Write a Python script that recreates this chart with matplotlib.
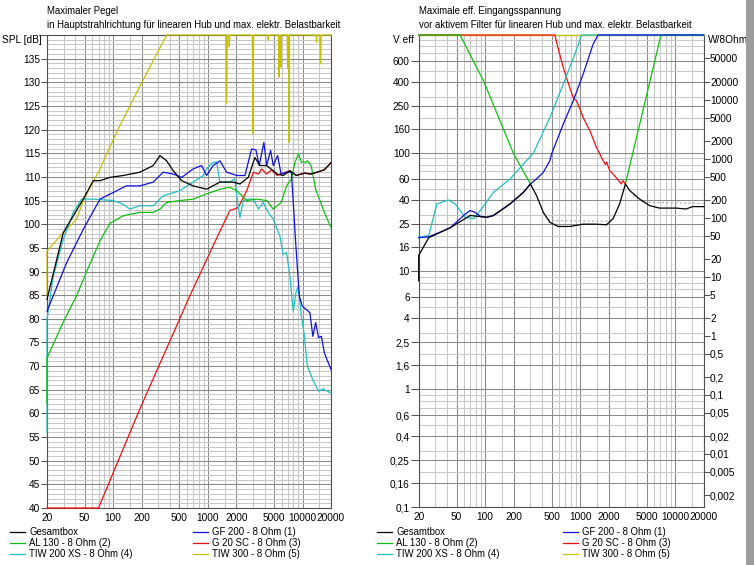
import numpy as np
import matplotlib
matplotlib.use("Agg")
import matplotlib.pyplot as plt
from matplotlib.ticker import FixedLocator, FuncFormatter, NullFormatter
from matplotlib.patches import Rectangle

plt.rcParams['font.family'] = ['Liberation Sans', 'DejaVu Sans']

W, H = 754, 565
nan = np.nan

names = ["Gesamtbox", "GF 200 - 8 Ohm (1)", "AL 130 - 8 Ohm (2)",
         "G 20 SC - 8 Ohm (3)", "TIW 200 XS - 8 Ohm (4)", "TIW 300 - 8 Ohm (5)"]
colors = ["#000000", "#1010e0", "#10c010", "#f01010", "#20c0c0", "#c8c000"]

x_major = [20, 50, 100, 200, 500, 1000, 2000, 5000, 10000, 20000]
x_minor = [30, 40, 60, 70, 80, 90, 150, 300, 400, 600, 700, 800, 900, 1500,
           3000, 4000, 6000, 7000, 8000, 9000, 15000]

### left: Maximaler Pegel, SPL in dB

box_f = [20, 29.7, 48.3, 61.6, 72.6, 92.5, 128, 192, 265, 312, 367, 431, 529, 701,
         970, 1342, 1855, 2183, 2675, 3144, 3548, 4178, 4910, 5400, 6255, 7364, 8600,
         10500, 12300, 14780, 17000, 20000]
box_spl = [84.1, 98.2, 105.3, 109.2, 109.2, 109.9, 110.3, 111.0, 112.4, 114.5, 113.4,
           111.3, 109.2, 108.1, 107.4, 108.9, 108.9, 108.5, 109.9, 114.1, 112.4, 112.4,
           111.3, 110.6, 110.3, 111.3, 110.3, 110.8, 110.6, 111.1, 111.5, 113.0]

gf200_f = [20, 32.3, 48.3, 72.6, 100, 137, 192, 265, 338, 431, 529, 701, 859, 970,
           1140, 1342, 1578, 2013, 2466, 2899, 3221, 3490, 3909, 4178, 4604, 4910,
           5457, 5940, 6792, 7640, 8515, 9262, 9930, 11970, 12860, 13780, 14780,
           15850, 17000, 20000]
gf200_spl = [81.6, 91.9, 98.9, 105.3, 106.7, 108.1, 108.1, 108.9, 111.0, 110.6, 109.9,
             111.7, 112.4, 110.3, 112.4, 113.4, 111.0, 110.3, 110.3, 115.9, 115.7, 112.4,
             117.3, 112.4, 115.6, 112.4, 114.5, 110.6, 111.0, 111.0, 95.4, 84.8, 82.7,
             81.3, 76.3, 79.2, 76.0, 76.3, 72.8, 69.3]

al130_f = [20, 20, 29.7, 41.3, 52.5, 72.6, 92.5, 128, 192, 265, 312, 367, 508, 701,
           970, 1342, 1710, 2013, 2580, 3280, 4178, 4910, 5940, 6792, 7640, 8330, 9080,
           9720, 10880, 11230, 12340, 13780, 15300, 17000, 20000]
al130_spl = [62, 71.7, 79.3, 85.0, 90.0, 96.5, 100.2, 101.8, 102.5, 102.5, 103.2,
             104.6, 105.0, 105.3, 106.4, 107.4, 107.8, 107.1, 105.0, 105.3, 105.0, 103.2,
             104.6, 108.1, 109.6, 113.1, 114.9, 113.1, 113.1, 113.4, 112.4, 107.4, 105.0,
             102.5, 99.3]

g20_f = [20, 70, 76, 192, 621, 1052, 1342, 1710, 2090, 2580, 3030, 3425, 3700, 4178,
         4700, 5400, 6255, 7364, 8600, 10500, 12300, 14780, 17000, 20000]
g20_spl = [40, 40, 41.7, 61.0, 84.1, 94.0, 98.5, 102.9, 103.5, 107.1, 111.0, 110.6,
           111.7, 110.6, 111.5, 110.3, 110.8, 111.3, 110.3, 110.8, 110.6, 111.1, 111.5, 113.0]

tiw200_f = [20, 20, 23.3, 29.7, 37.9, 46.3, 61.6, 100, 128, 150, 192, 265, 338, 508,
            701, 895, 970, 1140, 1239, 1342, 1710, 1930, 2040, 2183, 2370, 2675, 3030,
            3425, 3840, 4340, 4910, 5770, 6255, 6792, 7364, 7980, 8515, 8990, 9720,
            10490, 11230, 12860, 14780, 16460, 20000]
tiw200_spl = [56, 79.9, 89.0, 96.8, 102.5, 105.3, 105.3, 105.0, 104.2, 103.2, 103.9,
              103.9, 106.0, 107.1, 108.9, 110.3, 111.7, 113.1, 113.1, 108.9, 108.9, 109.6,
              105.3, 101.4, 105.0, 105.3, 105.3, 103.2, 104.6, 102.5, 101.1, 97.5, 93.6,
              94.0, 89.0, 81.6, 85.5, 86.9, 80.6, 76.3, 70.0, 67.1, 64.7, 65.2, 64.3]

tiw300_f = [20, 20, 29.7, 41.3, 48.3, 72.6, 113.5, 192, 367,
            1555, 1581, 1605, 1660, 1683, 1705,
            2950, 2994, 3040, 4290, 4345, 4400,
            5570, 5636, 5700, 5840, 5905, 5970,
            6900, 6966, 7030, 7160, 7230, 7300,
            13900, 14090, 14280, 15300, 15520, 15740, 20000]
tiw300_spl = [85, 94.3, 98.2, 101.1, 105.0, 111.7, 120.2, 129.2, 140,
              140, 125.5, 140, 140, 137.5, 140,
              140, 119.1, 140, 140, 138.9, 140,
              140, 131.1, 140, 140, 133.2, 140,
              140, 133.0, 140, 140, 117.3, 140,
              140, 138.5, 140, 140, 133.9, 140, 140]

### right: max. Eingangsspannung, V eff

box_v_f = [20, 20, 25.5, 42.9, 69.6, 104, 122.5, 183, 253, 300, 348, 410, 481, 587,
           778, 1077, 1486, 1893, 2223, 2606, 3000, 3320, 4230, 5383, 6855, 10260,
           13060, 15240, 20000]
box_v = [8.3, 13.6, 19.2, 23.3, 29.6, 28.6, 29.6, 37.1, 46.5, 54.8, 43.6, 31.5, 25.9,
         23.9, 23.9, 25.0, 25.0, 24.7, 27.8, 37.1, 54.8, 48.3, 40.8, 35.9, 34.2, 34.2,
         33.6, 35.2, 35.2]

gf200_v_f = [20, 25.5, 42.9, 62, 69.6, 78, 90, 104, 122.5, 183, 253, 300, 348, 410,
             481, 501, 665, 846, 1077, 1371, 1545, 20000]
gf200_v = [19.2, 19.5, 23.3, 30.5, 32.6, 31.5, 29.0, 28.6, 29.6, 37.1, 46.5, 54.8,
           60.4, 68.7, 86.3, 98.3, 176, 277, 466, 836, 1000, 1000]

al130_v_f = [20, 54.6, 96.2, 200, 300, nan, 3000, 7100, 20000]
al130_v = [1000, 1000, 409, 98.3, 54.8, nan, 54.8, 1000, 1000]

g20_v_f = [20, 542, 580, 665, 760, 846, 880, 917, 1000, 1077, 1265, 1486, 1746, 1850,
           1900, 2051, 2400, 2716, 2830, 3000]
g20_v = [1000, 1000, 800, 530, 380, 296, 285, 277, 235, 200, 155, 112, 86.3, 80,
         84, 71, 62, 54.8, 58.4, 54.8]

tiw200_v_f = [20, 25.5, 31.1, 41.3, 48.4, 61.7, 75.9, 88.7, 122.5, 183, 322, 481, 665,
              880, 1035, 20000]
tiw200_v = [19.4, 20.0, 37.1, 40.1, 37.1, 28.6, 27.8, 32.6, 46.5, 60.4, 100, 200, 384,
            688, 1000, 1000]

tiw300_v_f = [20, 20000]
tiw300_v = [1000, 1000]

limit_f = [400, 481, 2050, 2200, nan, 3600, 4600, 20000]
limit_v = [31.5, 26.8, 26.5, 28.6, nan, 44.0, 38.3, 37.5]

v_ticks = [0.1, 0.16, 0.25, 0.4, 0.6, 1, 1.6, 2.5, 4, 6, 10, 16, 25, 40, 60, 100,
           160, 250, 400, 600]
v_minor = [m * 10.0 ** k for k in range(-1, 3) for m in (2, 3, 5, 7, 8, 9)]
w_ticks = [0.002, 0.005, 0.01, 0.02, 0.05, 0.1, 0.2, 0.5, 1, 2, 5, 10, 20, 50, 100,
           200, 500, 1000, 2000, 5000, 10000, 20000, 50000]

FS = 7.3      # tick labels
FS_T = 6.9    # titles / legend

GRID_MAJ = "#8a8a8a"
GRID_MIN = "#c8c8c8"


def de(v, pos=None):
    return ("%g" % v).replace(".", ",")


def box(x0, y0, x1, y1):
    return [x0 / W, 1 - y1 / H, (x1 - x0) / W, (y1 - y0) / H]


def setup_x(ax):
    ax.set_xscale("log")
    ax.set_xlim(20, 20000)
    ax.xaxis.set_major_locator(FixedLocator(x_major))
    ax.xaxis.set_major_formatter(FuncFormatter(lambda v, p: "%d" % v))
    ax.xaxis.set_minor_locator(FixedLocator(x_minor))
    ax.xaxis.set_minor_formatter(NullFormatter())
    ax.tick_params(axis="x", which="both", length=0, pad=3.5, labelsize=FS)
    ax.set_axisbelow(True)
    for s in ax.spines.values():
        s.set_color("#505050")
        s.set_linewidth(0.8)


def grids(ax):
    ax.grid(True, which="major", axis="both", color=GRID_MAJ, lw=0.75)
    ax.grid(True, which="minor", axis="both", color=GRID_MIN, lw=0.75)


def curves(ax, data):
    for f, y, c in data:
        ax.plot(f, y, color=c, lw=0.9, clip_on=False, zorder=3)


def legend(fig, idx, x, y):
    hs = [plt.Line2D([], [], color=colors[i], lw=0.9) for i in idx]
    fig.legend(hs, [names[i] for i in idx], loc="upper left",
               bbox_to_anchor=(x / W, 1 - y / H), frameon=False, fontsize=FS_T,
               borderpad=0, borderaxespad=0, handlelength=1.6, handletextpad=0.4,
               labelspacing=0.12)


fig = plt.figure(figsize=(W / 100, H / 100), dpi=100)

# left panel
ax1 = fig.add_axes(box(47, 35, 331, 508))
setup_x(ax1)
ax1.set_ylim(40, 140)
ax1.yaxis.set_major_locator(FixedLocator(np.arange(40, 141, 5)))
ax1.yaxis.set_major_formatter(FuncFormatter(lambda v, p: "" if v >= 140 else "%d" % v))
ax1.yaxis.set_minor_locator(FixedLocator(np.arange(40, 141, 1)))
ax1.yaxis.set_minor_formatter(NullFormatter())
ax1.tick_params(axis="y", which="major", length=4, width=0.7, pad=1, labelsize=FS,
                color="#505050")
ax1.tick_params(axis="y", which="minor", length=0)
grids(ax1)
curves(ax1, [(tiw300_f, tiw300_spl, colors[5]),
             (g20_f, g20_spl, colors[3]),
             (tiw200_f, tiw200_spl, colors[4]),
             (al130_f, al130_spl, colors[2]),
             (gf200_f, gf200_spl, colors[1]),
             (box_f, box_spl, colors[0])])

# right panel
ax2 = fig.add_axes(box(418.7, 35, 703.7, 507.3))
setup_x(ax2)
ax2.set_yscale("log")
ax2.set_ylim(0.1, 1000)
ax2.yaxis.set_major_locator(FixedLocator(v_ticks))
ax2.yaxis.set_major_formatter(FuncFormatter(de))
ax2.yaxis.set_minor_locator(FixedLocator(v_minor))
ax2.yaxis.set_minor_formatter(NullFormatter())
ax2.tick_params(axis="y", which="major", length=6, width=0.7, pad=0.5, labelsize=FS,
                color="#505050")
ax2.tick_params(axis="y", which="minor", length=0)
grids(ax2)
ax2.plot(limit_f, limit_v, color="#a8a8a8", lw=0.8, ls=(0, (2, 2)), zorder=2.8)
curves(ax2, [(tiw300_v_f, tiw300_v, colors[5]),
             (g20_v_f, g20_v, colors[3]),
             (al130_v_f, al130_v, colors[2]),
             (tiw200_v_f, tiw200_v, colors[4]),
             (gf200_v_f, gf200_v, colors[1]),
             (box_v_f, box_v, colors[0])])

ax2r = ax2.twinx()
ax2r.set_yscale("log")
ax2r.set_ylim(0.1 ** 2 / 8, 1000 ** 2 / 8)
ax2r.yaxis.set_major_locator(FixedLocator(w_ticks))
ax2r.yaxis.set_major_formatter(FuncFormatter(de))
ax2r.yaxis.set_minor_locator(FixedLocator([]))
ax2r.tick_params(axis="y", which="major", length=4, width=0.7, pad=0.5, labelsize=FS,
                 color="#505050")
for s in ax2r.spines.values():
    s.set_visible(False)

# titles and axis names
fig.text(47 / W, 1 - 10.5 / H, "Maximaler Pegel", fontsize=FS_T, va="center")
fig.text(47 / W, 1 - 24.5 / H,
         "in Hauptstrahlrichtung für linearen Hub und max. elektr. Belastbarkeit",
         fontsize=FS_T, va="center")
fig.text(418.7 / W, 1 - 10.5 / H, "Maximale eff. Eingangsspannung", fontsize=FS_T,
         va="center")
fig.text(418.7 / W, 1 - 24.5 / H,
         "vor aktivem Filter für linearen Hub und max. elektr. Belastbarkeit",
         fontsize=FS_T, va="center")
fig.text(42 / W, 1 - 40 / H, "SPL [dB]", fontsize=FS, va="center", ha="right")
fig.text(414 / W, 1 - 40 / H, "V eff", fontsize=FS, va="center", ha="right")
fig.text(708 / W, 1 - 40 / H, "W/8Ohm", fontsize=FS, va="center", ha="left")

legend(fig, [0, 2, 4], 10, 527)
legend(fig, [1, 3, 5], 193, 527)
legend(fig, [0, 2, 4], 377, 527)
legend(fig, [1, 3, 5], 563, 527)

# window scrollbar strip on the right edge
fig.patches.append(Rectangle((746 / W, 0), 8 / W, 1, transform=fig.transFigure,
                             facecolor="#9c9c9c", edgecolor="none", zorder=10))

fig.savefig("out.png", dpi=100)
